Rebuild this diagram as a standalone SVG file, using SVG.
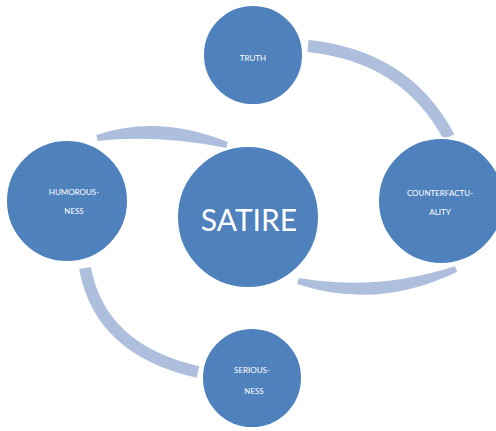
<svg xmlns="http://www.w3.org/2000/svg" width="496" height="431" viewBox="0 0 496 431">
<style>
.arc{fill:none;stroke:#adbfdc;stroke-width:12;}
.band{fill:#adbfdc;stroke:none;}
.node{fill:#4f81bd;stroke:#ffffff;stroke-width:2;}
.lbl{font-family:Lato,"Open Sans",sans-serif;fill:#ffffff;text-anchor:middle;font-size:8px;}
.big{font-family:Lato,"Open Sans",sans-serif;fill:#ffffff;text-anchor:middle;font-size:30px;}
</style>
<rect width="496" height="431" fill="#ffffff"/>
<g id="connectors">
<path class="arc" d="M308,46 Q406,56 449,137"/>
<path class="band" d="M96.3,135.1 Q158.3,114 227.9,142.1 L226.1,147.9 Q157.7,134.5 97.7,140.9 Z"/>
<path class="arc" d="M85,268 Q100,350 198,372"/>
<path class="band" d="M297.1,283.9 Q377.6,310.5 457.2,271.7 L454.8,266.3 Q376.4,291.5 298.9,278.1 Z"/>
</g>
<g id="truth"><circle class="node" cx="253" cy="55" r="50"/><text class="lbl" x="253" y="61">TRUTH</text></g>
<g id="counterfactuality"><circle class="node" cx="441" cy="201" r="63"/><text class="lbl" x="440" y="196">COUNTERFACTU-</text><text class="lbl" x="440" y="215">ALITY</text></g>
<g id="humorousness"><circle class="node" cx="67" cy="201" r="61"/><text class="lbl" x="74" y="195">HUMOROUS-</text><text class="lbl" x="74" y="214">NESS</text></g>
<g id="seriousness"><circle class="node" cx="252" cy="378" r="50"/><text class="lbl" x="252" y="373">SERIOUS-</text><text class="lbl" x="254" y="394">NESS</text></g>
<g id="satire"><circle class="node" cx="248" cy="217" r="71"/><text class="big" x="249" y="231">SATIRE</text></g>
</svg>
